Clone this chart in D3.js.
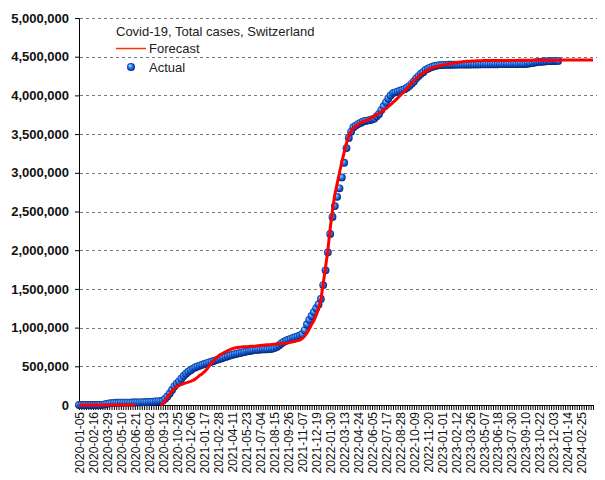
<!DOCTYPE html>
<html>
<head>
<meta charset="utf-8">
<script src="https://cdn.jsdelivr.net/npm/d3@7"></script>
<style>
  body { margin: 0; background: #fff; }
  svg { display: block; }
</style>
</head>
<body>
<div id="chart"></div>
<script>
// ---------- DATA ----------
const titleText = "Covid-19, Total cases, Switzerland";
const seriesNames = ["Forecast", "Actual"];
const firstWeek = "2020-01-05";   // weekly series start (Sundays)
const lastWeek = "2024-03-31";    // end of the time axis

// Actual total cases, thousands, one value per week from 2020-01-05
const actualThousands = [
  0,0,0,0,0,0,0,0,0,0.5,
  2,8,15,21,25,27,29,30,30.5,31,
  31,31.5,31.7,32,32.5,33,34,35,36,37.5,
  39,41,43,45,47,50,55,80,110,150,
  195,240,275,305,340,375,405,430,450,470,
  485,498,510,520,530,540,550,560,570,580,
  590,600,610,620,630,640,648,656,663,670,
  677,684,690,696,702,707,711,714,716,718,
  719,720,722,726,735,750,770,795,815,830,
  843,855,866,876,886,898,915,965,1040,1100,
  1150,1200,1250,1300,1370,1550,1740,1970,2210,2430,
  2570,2690,2800,2940,3130,3320,3450,3530,3590,3610,
  3630,3645,3660,3670,3675,3680,3690,3700,3730,3760,
  3810,3860,3910,3960,4000,4030,4040,4050,4060,4070,
  4080,4100,4120,4150,4180,4220,4250,4280,4300,4330,
  4345,4360,4370,4380,4385,4390,4392,4394,4395,4396,
  4396,4397,4397,4398,4398,4398,4399,4399,4399,4400,
  4400,4400,4400,4401,4401,4401,4401,4402,4402,4402,
  4402,4403,4403,4403,4403,4404,4404,4404,4404,4405,
  4405,4405,4406,4410,4415,4420,4425,4430,4433,4436,
  4438,4440,4442,4443,4444,4445,4446
];

// Forecast total cases, thousands, one value per week from 2020-01-05 (null = not drawn)
const forecastThousands = [
  0,0,0,0,0,0,0,0,0,0,
  0,0,0,0,0,0,0,0,0,0,
  0,0,0,0,0,
  null,null,null,null,null,null,null,null,null,null,
  0,15,50,95,140,180,210,235,252,265,
  276,286,296,306,318,335,360,385,405,430,
  465,505,545,580,610,635,655,670,688,703,
  716,728,737,743,747,750,752,754,756,758,
  760,762,765,768,771,774,777,780,783,786,
  789,791,793,795,797,803,810,817,824,832,
  840,860,890,930,980,1040,1090,1160,1250,1360,
  1570,1780,2000,2280,2520,2720,2860,3000,3140,3260,
  3380,3480,3540,3575,3600,3625,3645,3660,3670,3685,
  3700,3715,3730,3750,3770,3790,3810,3830,3855,3880,
  3910,3935,3965,3995,4025,4055,4090,4125,4160,4190,
  4220,4245,4270,4290,4310,4327,4342,4355,4366,4375,
  4383,4390,4396,4401,4406,4411,4416,4421,4426,4430,
  4434,4437,4440,4442,4444,4446,4447,4448,4449,4450,
  4450,4450,4450,4450,4451,4451,4451,4451,4451,4452,
  4452,4452,4452,4452,4453,4453,4453,4453,4453,4454,
  4454,4454,4454,4454,4454,4455,4455,4455,4455,4455,
  4455,4455,4456,4456,4456,4456,4456,4456,4456,4456,
  4456,4456,4457,4457,4457,4457,4457
];

const xTickLabels = [
  "2020-01-05","2020-02-16","2020-03-29","2020-05-10","2020-06-21","2020-08-02",
  "2020-09-13","2020-10-25","2020-12-06","2021-01-17","2021-02-28","2021-04-11",
  "2021-05-23","2021-07-04","2021-08-15","2021-09-26","2021-11-07","2021-12-19",
  "2022-01-30","2022-03-13","2022-04-24","2022-06-05","2022-07-17","2022-08-28",
  "2022-10-09","2022-11-20","2023-01-01","2023-02-12","2023-03-26","2023-05-07",
  "2023-06-18","2023-07-30","2023-09-10","2023-10-22","2023-12-03","2024-01-14",
  "2024-02-25"
];
const yTickValues = [0,500000,1000000,1500000,2000000,2500000,3000000,3500000,4000000,4500000,5000000];

// ---------- CHART ----------
const W = 605, H = 480;
const plotLeft = 79, plotRight = 593, plotTop = 18, plotBottom = 405;
const parse = d3.utcParse("%Y-%m-%d");
const t0 = parse(firstWeek);
const weekDate = i => d3.utcWeek.offset(t0, i);

const actual = actualThousands.map((v, i) => ({ date: weekDate(i), value: v * 1000 }));
const forecast = forecastThousands.map((v, i) => ({ date: weekDate(i), value: v == null ? null : v * 1000 }));

const x = d3.scaleUtc().domain([t0, parse(lastWeek)]).range([plotLeft, plotRight]);
const y = d3.scaleLinear().domain([0, 5000000]).range([plotBottom, plotTop]);

const svg = d3.select("#chart").append("svg")
  .attr("width", W).attr("height", H)
  .style("font-family", "'Liberation Sans', Arial, sans-serif");

const defs = svg.append("defs");
const grad = defs.append("radialGradient").attr("id", "sphere")
  .attr("cx", "50%").attr("cy", "50%").attr("r", "55%")
  .attr("fx", "35%").attr("fy", "30%");
[["0%", "#d8f2ff"], ["18%", "#6cc0ff"], ["45%", "#2a7ef0"], ["75%", "#0d44b8"], ["100%", "#001455"]]
  .forEach(([o, c]) => grad.append("stop").attr("offset", o).attr("stop-color", c));

// grid
svg.append("g").selectAll("line")
  .data(yTickValues.filter(v => v > 0))
  .join("line")
  .attr("x1", plotLeft + 1).attr("x2", 597)
  .attr("y1", d => Math.round(y(d)) + 0.5).attr("y2", d => Math.round(y(d)) + 0.5)
  .attr("stroke", "#7a7a7a").attr("stroke-width", 1)
  .attr("stroke-dasharray", "3,3");

// y axis
const yAxis = svg.append("g")
  .attr("transform", `translate(${plotLeft},0)`)
  .call(d3.axisLeft(y).tickValues(yTickValues).tickFormat(d3.format(",")).tickSize(4).tickPadding(6));
yAxis.select(".domain").attr("stroke", "#000");
yAxis.selectAll("text").attr("font-size", 13).attr("font-weight", "bold").attr("fill", "#111")
  .attr("font-family", "'Liberation Sans', Arial, sans-serif");

// x axis
const labelSet = new Set(xTickLabels);
const fmt = d3.utcFormat("%Y-%m-%d");
const weekTicks = d3.utcWeek.range(t0, d3.utcDay.offset(parse(lastWeek), 1));
const xAxis = svg.append("g")
  .attr("transform", `translate(0,${plotBottom})`)
  .call(d3.axisBottom(x).tickValues(weekTicks).tickSize(5)
    .tickFormat(d => labelSet.has(fmt(d)) ? fmt(d) : ""));
xAxis.select(".domain").attr("stroke", "#000");
xAxis.selectAll("text")
  .attr("transform", "rotate(-90)")
  .attr("text-anchor", "end")
  .attr("x", -7).attr("y", 0).attr("dy", "0.36em")
  .attr("font-size", 12).attr("fill", "#111")
  .attr("font-family", "'Liberation Sans', Arial, sans-serif");

// actual points
svg.append("g").selectAll("circle")
  .data(actual)
  .join("circle")
  .attr("cx", d => x(d.date))
  .attr("cy", d => y(d.value))
  .attr("r", 3.9)
  .attr("fill", "url(#sphere)");

// forecast line
const line = d3.line()
  .defined(d => d.value != null)
  .x(d => x(d.date)).y(d => y(d.value));
svg.append("path")
  .datum(forecast)
  .attr("fill", "none")
  .attr("stroke", "#ff0000")
  .attr("stroke-width", 3)
  .attr("stroke-linejoin", "round")
  .attr("d", line);

// legend
const lg = svg.append("g").attr("font-size", 13).attr("fill", "#222");
lg.append("text").attr("x", 116).attr("y", 35.5).text(titleText);
lg.append("line").attr("x1", 116).attr("x2", 146).attr("y1", 48.5).attr("y2", 48.5)
  .attr("stroke", "#ff3300").attr("stroke-width", 1.5);
lg.append("text").attr("x", 149).attr("y", 53).text(seriesNames[0]);
lg.append("circle").attr("cx", 131).attr("cy", 67).attr("r", 4).attr("fill", "url(#sphere)");
lg.append("text").attr("x", 149).attr("y", 71.5).text(seriesNames[1]);
</script>
</body>
</html>
